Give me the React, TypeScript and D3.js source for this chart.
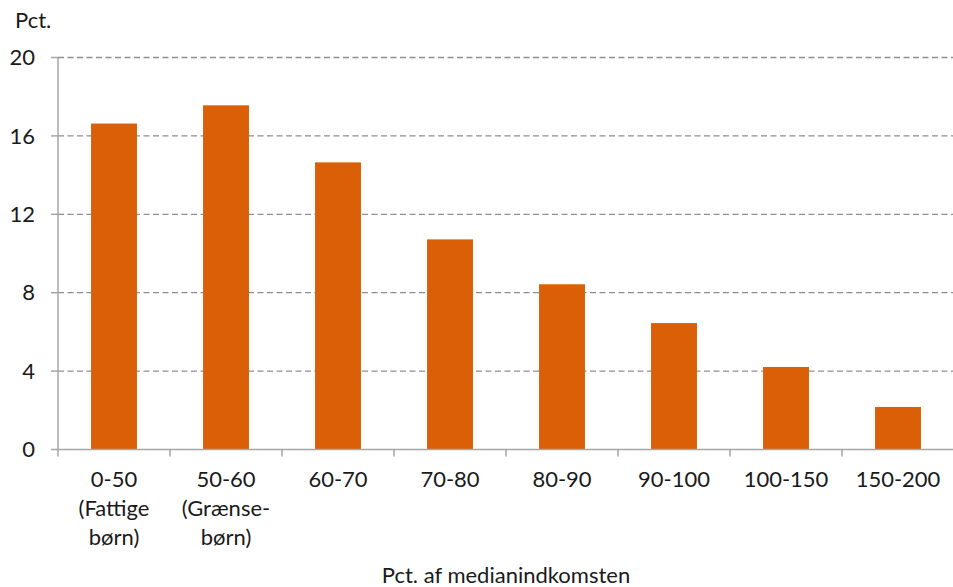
import React from "react";
import * as d3 from "d3";

const categories: string[][] = [
  ["0-50", "(Fattige", "børn)"],
  ["50-60", "(Grænse-", "børn)"],
  ["60-70"],
  ["70-80"],
  ["80-90"],
  ["90-100"],
  ["100-150"],
  ["150-200"],
];
const values: number[] = [16.63, 17.56, 14.65, 10.72, 8.43, 6.45, 4.21, 2.17];
const yTicks: number[] = [0, 4, 8, 12, 16, 20];
const yLabel = "Pct.";
const xLabel = "Pct. af medianindkomsten";

const W = 953;
const H = 587;
const FONT = "Lato, 'Open Sans', sans-serif";
const FS = 22;

export default function App() {
  const left = 58;
  const right = 954;
  const top = 57.5;
  const bottom = 449.5;

  const keys = categories.map((c) => c.join(" "));
  const x = d3
    .scaleBand<string>()
    .domain(keys)
    .range([left, right])
    .paddingInner(0.59)
    .paddingOuter(0.295);
  const step = x.step();
  const y = d3.scaleLinear().domain([0, 20]).range([bottom, top]);

  return (
    <svg
      width={W}
      height={H}
      style={{ position: "absolute", left: 0, top: 0, background: "#fff" }}
      fontFamily={FONT}
    >
      {yTicks
        .filter((t) => t > 0)
        .map((t) => (
          <line
            key={"g" + t}
            x1={left}
            x2={W}
            y1={y(t)}
            y2={y(t)}
            stroke="#8f8f8f"
            strokeWidth={1.3}
            strokeDasharray="6,3.5"
          />
        ))}
      {yTicks.map((t) => (
        <g key={"y" + t}>
          <line x1={left - 7} x2={left} y1={y(t)} y2={y(t)} stroke="#a6a6a6" strokeWidth={1.5} />
          <text x={35} y={y(t)} dy="0.35em" textAnchor="end" fontSize={FS} fill="#1a1a1a">
            {t}
          </text>
        </g>
      ))}
      {values.map((v, i) => (
        <rect
          key={"b" + i}
          x={x(keys[i])!}
          width={x.bandwidth()}
          y={y(v)}
          height={y(0) - y(v)}
          fill="#DB5F06"
        />
      ))}
      <line x1={left} x2={left} y1={top} y2={bottom} stroke="#a6a6a6" strokeWidth={1.5} />
      <line x1={left} x2={W} y1={bottom} y2={bottom} stroke="#a6a6a6" strokeWidth={1.5} />
      {d3.range(categories.length + 1).map((i) => (
        <line
          key={"xt" + i}
          x1={left + i * step}
          x2={left + i * step}
          y1={bottom}
          y2={bottom + 7}
          stroke="#a6a6a6"
          strokeWidth={1.5}
        />
      ))}
      {categories.map((lines, i) => (
        <text
          key={"c" + i}
          x={x(keys[i])! + x.bandwidth() / 2}
          y={487}
          textAnchor="middle"
          fontSize={FS}
          fill="#1a1a1a"
        >
          {lines.map((l, j) => (
            <tspan key={j} x={x(keys[i])! + x.bandwidth() / 2} y={487 + j * 29}>
              {l}
            </tspan>
          ))}
        </text>
      ))}
      <text x={15} y={27.5} fontSize={FS} fill="#1a1a1a">
        {yLabel}
      </text>
      <text x={506} y={583} textAnchor="middle" fontSize={FS} fill="#1a1a1a">
        {xLabel}
      </text>
    </svg>
  );
}
